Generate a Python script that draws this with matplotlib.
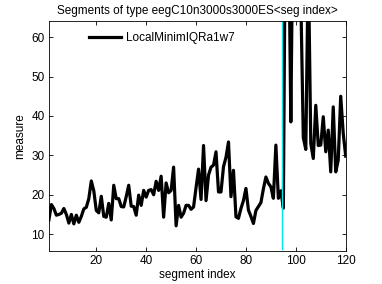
import matplotlib
matplotlib.use("Agg")
import matplotlib.pyplot as plt

plt.rcParams['font.family'] = ['Liberation Sans', 'DejaVu Sans']

# measure per segment (segments 1..120)
measure = [
    13.6, 17.5, 16.5, 14.8, 15.0, 15.3, 16.5, 15.0, 12.8, 15.0,
    12.6, 14.8, 13.0, 14.5, 16.4, 16.8, 19.0, 23.5, 21.0, 16.0,
    15.4, 19.6, 14.5, 14.3, 17.8, 13.6, 22.4, 19.0, 19.0, 17.0,
    16.9, 19.5, 22.4, 17.1, 17.0, 14.8, 19.9, 17.3, 21.1, 19.4,
    21.1, 21.3, 20.0, 23.4, 21.1, 24.7, 14.3, 23.0, 20.5, 21.1,
    27.0, 12.1, 17.3, 14.3, 15.3, 17.3, 17.3, 16.3, 16.9, 21.8,
    26.5, 18.8, 32.5, 18.5, 25.0, 27.0, 27.5, 30.9, 20.7, 20.7,
    27.1, 29.5, 33.4, 19.5, 26.2, 14.4, 14.0, 16.5, 18.5, 21.6,
    16.1, 14.5, 12.7, 16.0, 17.0, 18.0, 21.5, 24.5, 22.9, 22.0,
    19.1, 32.6, 19.1, 21.0, 16.6, 110.0, 95.0, 38.5, 100.0, 120.0,
    90.0, 70.0, 34.5, 31.5, 80.0, 33.0, 29.2, 42.7, 32.5, 32.6,
    39.8, 30.9, 36.4, 25.8, 42.3, 25.8, 28.8, 45.0, 35.6, 29.8,
]
segments = list(range(1, len(measure) + 1))

marker_x = 94.5          # cyan boundary line
marker_y = [6.2, 130.0]

label = "LocalMinimIQRa1w7"
title = "Segments of type eegC10n3000s3000ES<seg index>"
xticks = [20, 40, 60, 80, 100, 120]
yticks = [10, 20, 30, 40, 50, 60]

fig = plt.figure(figsize=(3.82, 2.84), dpi=100)
ax = fig.add_axes([0.128, 0.116, 0.777, 0.810])

ax.plot(segments, measure, color='black', lw=2.3, label=label)
ax.plot([marker_x, marker_x], marker_y, color='#00e5ee', lw=1.0)

ax.set_xlim(1, 120)
ax.set_ylim(5.7, 64.1)
ax.set_xticks(xticks)
ax.set_yticks(yticks)
ax.tick_params(direction='in', top=True, right=True, labelsize=8.5, length=3, width=0.6, pad=3)
for s in ax.spines.values():
    s.set_linewidth(0.6)

ax.set_title(title, fontsize=8.5, pad=5)
ax.set_xlabel("segment index", fontsize=8.5, labelpad=1)
ax.set_ylabel("measure", fontsize=8.5, labelpad=4)

ax.legend(loc='upper left', frameon=False, fontsize=8.5, handlelength=2.7,
          handletextpad=0.45, bbox_to_anchor=(0.1, 1.0))

fig.savefig("out.png", dpi=100)
